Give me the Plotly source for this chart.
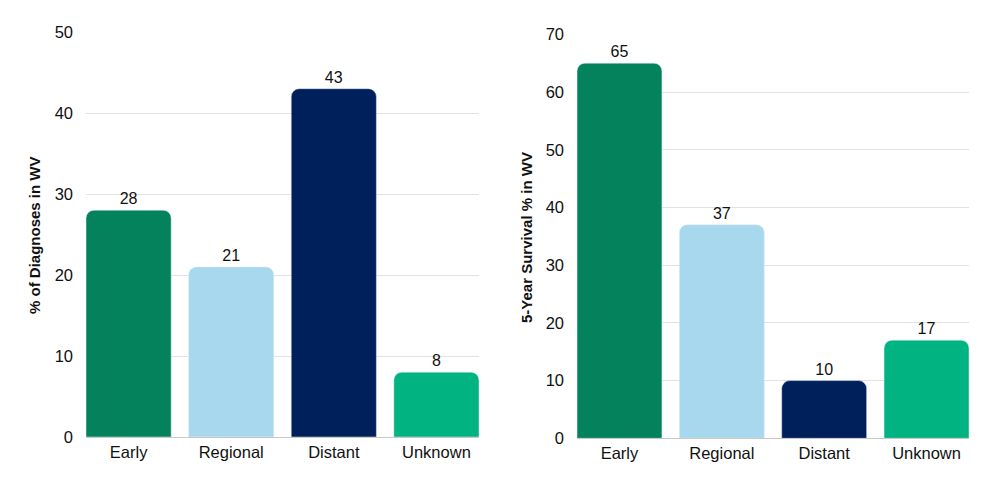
import plotly.graph_objects as go

stages = ["Early", "Regional", "Distant", "Unknown"]
diagnoses_pct = [28, 21, 43, 8]
survival_pct = [65, 37, 10, 17]
colors = ["#03825C", "#A8D8EE", "#00205B", "#00B381"]

# page has an 8px body margin, so figure coords = page coords - 8
W, H = 967, 466
OFF = 8
font_family = "Liberation Sans, Arial, sans-serif"
GAP = 0.17

def xd(left, right):
    return [(left - OFF) / W, (right - OFF) / W]

def yd(top, bottom):
    return [(H - (bottom - OFF)) / H, (H - (top - OFF)) / H]

fig = go.Figure()
for vals, xa, ya in [(diagnoses_pct, "x", "y"), (survival_pct, "x2", "y2")]:
    fig.add_trace(go.Bar(x=stages, y=vals, marker=dict(color=colors, cornerradius=8),
                         text=vals, textposition="outside", cliponaxis=False,
                         textfont=dict(size=16, color="#111"), xaxis=xa, yaxis=ya))

common_y = dict(showgrid=True, gridcolor="#E2E2E2", gridwidth=1, zeroline=False,
                tickfont=dict(size=16.5, color="#111"), ticks="", ticklen=0,
                showline=False, ticklabelstandoff=12, automargin=False)
common_x = dict(showline=True, linecolor="#C8C8C8", linewidth=1, ticks="",
                tickfont=dict(size=16.5, color="#111"), automargin=False,
                range=[-0.5 + GAP / 2, 3.5 - GAP / 2])

fig.update_layout(
    width=W, height=H,
    margin=dict(l=0, r=0, t=0, b=0, autoexpand=False),
    paper_bgcolor="white", plot_bgcolor="white",
    showlegend=False, bargap=GAP,
    font=dict(family=font_family, color="#111"),
    xaxis=dict(domain=xd(86, 479), anchor="y", **common_x),
    yaxis=dict(range=[0, 50], dtick=10, anchor="x", domain=yd(32, 437), **common_y),
    xaxis2=dict(domain=xd(577, 969), anchor="y2", **common_x),
    yaxis2=dict(range=[0, 70], dtick=10, anchor="x2", domain=yd(34.3, 438.3), **common_y),
    annotations=[
        dict(text="<b>% of Diagnoses in WV</b>", textangle=-90, showarrow=False,
             xref="paper", yref="paper", x=(35 - OFF) / W, y=(H - (235 - OFF)) / H,
             xanchor="center", yanchor="middle", font=dict(size=15, color="#111")),
        dict(text="<b>5-Year Survival % in WV</b>", textangle=-90, showarrow=False,
             xref="paper", yref="paper", x=(526 - OFF) / W, y=(H - (238 - OFF)) / H,
             xanchor="center", yanchor="middle", font=dict(size=15, color="#111")),
    ],
)

fig.write_html("out.html")
